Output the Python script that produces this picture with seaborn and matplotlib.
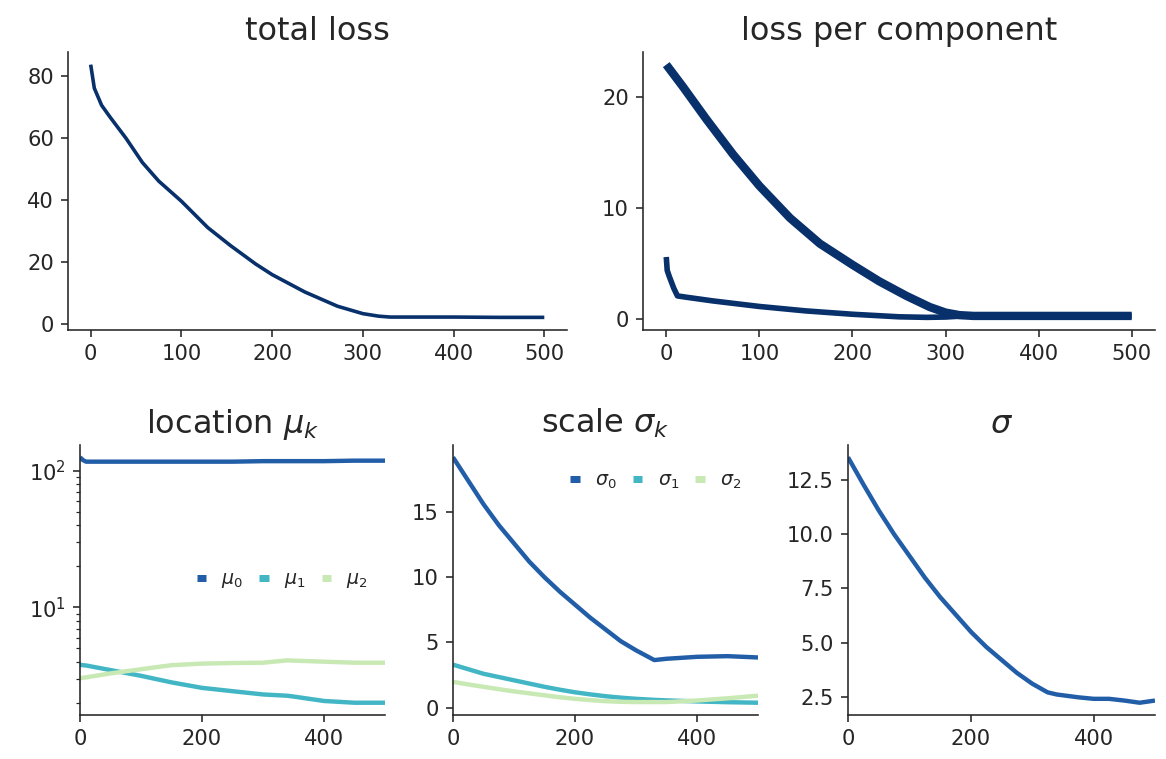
import matplotlib
matplotlib.use("Agg")
import matplotlib.pyplot as plt
import seaborn as sns
import pandas as pd

# ---------------- data ----------------
steps_total = [0, 4, 12, 21, 39, 57, 75, 100, 129, 154, 182, 200, 236, 272, 300,
               317, 330, 400, 450, 500]
total_loss = [83.6, 76, 70.5, 66.8, 59.8, 52, 46, 39.5, 31, 25.2, 19.2, 15.8, 10.2,
              5.6, 3.2, 2.4, 2.1, 2.1, 2.0, 2.0]

steps_comp_a = [0, 18, 43, 72, 100, 133, 165, 200, 229, 258, 283, 300, 315, 330,
                400, 450, 500]
comp_a_loss = [22.9, 20.9, 18.0, 14.8, 12.0, 9.1, 6.8, 4.9, 3.4, 2.1, 1.1, 0.6, 0.37,
               0.3, 0.3, 0.3, 0.3]

steps_comp_b = [0, 1, 3, 8, 12, 20, 50, 100, 150, 200, 250, 280, 300, 320, 340, 400, 500]
comp_b_loss = [5.6, 4.4, 3.9, 2.8, 2.1, 2.0, 1.65, 1.15, 0.75, 0.45, 0.22, 0.17, 0.2,
               0.3, 0.3, 0.3, 0.3]

steps_mu = [0, 5, 10, 50, 100, 150, 200, 250, 300, 340, 350, 400, 450, 500]
mu_0 = [126, 120, 117, 117, 117, 117, 117, 117, 118, 118, 118, 118, 119, 119]
mu_1 = [3.79, 3.77, 3.75, 3.47, 3.15, 2.82, 2.57, 2.43, 2.3, 2.25, 2.22, 2.06, 2.0, 2.0]
mu_2 = [3.03, 3.05, 3.07, 3.28, 3.52, 3.77, 3.87, 3.91, 3.93, 4.09, 4.07, 4.0, 3.93, 3.93]

steps_sig = [0, 25, 50, 75, 100, 125, 150, 175, 200, 225, 250, 275, 300, 330, 350,
             400, 450, 500]
sigma_0 = [19.2, 17.4, 15.6, 14.0, 12.6, 11.2, 10.0, 8.9, 7.9, 6.9, 6.0, 5.1, 4.4, 3.65,
           3.75, 3.9, 3.95, 3.85]
sigma_1 = [3.3, 2.95, 2.6, 2.35, 2.1, 1.85, 1.6, 1.38, 1.18, 1.02, 0.88, 0.77, 0.68,
           0.6, 0.56, 0.48, 0.42, 0.38]
sigma_2 = [1.98, 1.78, 1.6, 1.42, 1.25, 1.1, 0.95, 0.8, 0.68, 0.58, 0.5, 0.45, 0.43,
           0.43, 0.43, 0.55, 0.72, 0.92]

steps_s = [0, 25, 50, 75, 100, 125, 150, 175, 200, 225, 250, 275, 300, 325, 340, 375,
           400, 425, 450, 475, 500]
sigma_shared = [13.55, 12.3, 11.1, 10.0, 9.0, 8.0, 7.1, 6.3, 5.5, 4.8, 4.2, 3.6, 3.1,
                2.7, 2.6, 2.47, 2.4, 2.4, 2.32, 2.22, 2.32]

mu_labels = [r"$\mu_0$", r"$\mu_1$", r"$\mu_2$"]
sigma_labels = [r"$\sigma_0$", r"$\sigma_1$", r"$\sigma_2$"]

# ---------------- style ----------------
sns.set_style("ticks")
plt.rcParams["font.family"] = ["DejaVu Sans"]
plt.rcParams["xtick.labelsize"] = 10.5
plt.rcParams["ytick.labelsize"] = 10.5
plt.rcParams["axes.titlesize"] = 16
plt.rcParams["xtick.major.size"] = 3.5
plt.rcParams["ytick.major.size"] = 3.5
plt.rcParams["lines.solid_capstyle"] = "butt"

navy = "#08306b"
pal = sns.color_palette("YlGnBu_r", 3)

W, H = 1166, 759
fig = plt.figure(figsize=(W / 144, H / 144), dpi=144)

def rect(l, r, t, b):
    return [l / W, 1 - b / H, (r - l) / W, (b - t) / H]

ax_tot = fig.add_axes(rect(68, 567, 52, 330))
ax_comp = fig.add_axes(rect(643, 1155, 52, 330))
ax_mu = fig.add_axes(rect(80, 385, 445, 715))
ax_sk = fig.add_axes(rect(453, 758, 445, 715))
ax_s = fig.add_axes(rect(848, 1155, 445, 715))

# total loss
sns.lineplot(x=steps_total, y=total_loss, ax=ax_tot, color=navy, linewidth=1.8)
ax_tot.set_title("total loss")

# loss per component
sns.lineplot(x=steps_comp_a, y=comp_a_loss, ax=ax_comp, color=navy, linewidth=4.2)
sns.lineplot(x=steps_comp_b, y=comp_b_loss, ax=ax_comp, color=navy, linewidth=2.8)
ax_comp.set_title("loss per component")
ax_comp.set_yticks([0, 10, 20])

for ax in (ax_tot, ax_comp):
    ax.set_xticks([0, 100, 200, 300, 400, 500])

# location
df_mu = pd.DataFrame({
    "step": steps_mu * 3,
    "value": mu_0 + mu_1 + mu_2,
    "param": sum([[lab] * len(steps_mu) for lab in mu_labels], []),
})
sns.lineplot(data=df_mu, x="step", y="value", hue="param", palette=pal,
             ax=ax_mu, linewidth=2.2)
ax_mu.set_yscale("log")
ax_mu.set_title(r"location $\mu_k$")

# scale per component
df_sk = pd.DataFrame({
    "step": steps_sig * 3,
    "value": sigma_0 + sigma_1 + sigma_2,
    "param": sum([[lab] * len(steps_sig) for lab in sigma_labels], []),
})
sns.lineplot(data=df_sk, x="step", y="value", hue="param", palette=pal,
             ax=ax_sk, linewidth=2.2)
ax_sk.set_title(r"scale $\sigma_k$")
ax_sk.set_yticks([0, 5, 10, 15])

# shared sigma
sns.lineplot(x=steps_s, y=sigma_shared, ax=ax_s, color=pal[0], linewidth=2.2)
ax_s.set_title(r"$\sigma$")
ax_s.set_yticks([2.5, 5.0, 7.5, 10.0, 12.5])

for ax in (ax_mu, ax_sk, ax_s):
    ax.set_xlim(0, 500)
    ax.set_xticks([0, 200, 400])

for ax in (ax_tot, ax_comp, ax_mu, ax_sk, ax_s):
    ax.set_xlabel("")
    ax.set_ylabel("")
    sns.despine(ax=ax)

leg_kw = dict(frameon=False, ncol=3, handlelength=0.5, handletextpad=0.8,
              columnspacing=0.85, fontsize=9.5)
h, l = ax_mu.get_legend_handles_labels()
ax_mu.legend(h, l, loc="center right", bbox_to_anchor=(1.0, 0.5), **leg_kw)
h, l = ax_sk.get_legend_handles_labels()
ax_sk.legend(h, l, loc="upper right", bbox_to_anchor=(1.0, 0.97), **leg_kw)
for ax in (ax_mu, ax_sk):
    for line in ax.get_legend().get_lines():
        line.set_linewidth(3.5)

fig.savefig("out.png", dpi=144)
